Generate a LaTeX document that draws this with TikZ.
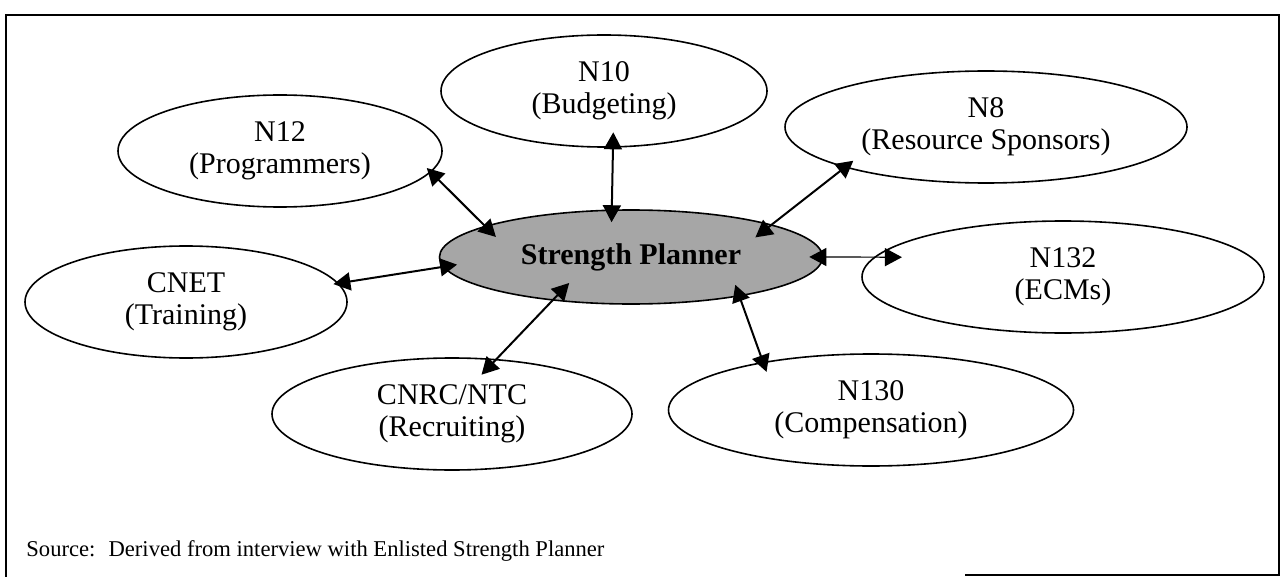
\documentclass[tikz,border=0pt]{standalone}
\usepackage{fontspec}
\setmainfont{Liberation Serif}
\usetikzlibrary{shapes.geometric}
\usetikzlibrary{arrows.meta}

\begin{document}
\begin{tikzpicture}[x=0.5pt, y=-0.5pt,
        office/.style={ellipse, draw, line width=0.8pt, inner sep=0pt, align=center,
            minimum height=56pt, font=\fontsize{15}{16}\selectfont},
        planner/.style={office, fill=gray!70, minimum height=47pt,
            font=\fontsize{15}{16}\selectfont\bfseries},
        link/.style={{Triangle[length=8.5pt,width=9pt]}-{Triangle[length=8.5pt,width=9pt]},
            line width=1pt}]
        \useasboundingbox (0,0) rectangle (1283,577);
        % frame of the figure
        \draw[line width=0.9pt] (6,577) -- (6,15) -- (1279,15) -- (1279,575) -- (965,575);

        \node[planner, minimum width=191.5pt] (sp) at (631,257) {Strength Planner};
        \node[office, minimum width=163pt] (n10) at (604,91) {N10\\(Budgeting)};
        \node[office, minimum width=162pt] (n12) at (280,151) {N12\\(Programmers)};
        \node[office, minimum width=201pt] (n8) at (986,127) {N8\\(Resource Sponsors)};
        \node[office, minimum width=161pt] (cnet) at (186,302) {CNET\\(Training)};
        \node[office, minimum width=201pt] (n132) at (1063,277) {N132\\(ECMs)};
        \node[office, minimum width=180pt] (cnrc) at (452,414) {CNRC/NTC\\(Recruiting)};
        \node[office, minimum width=202.5pt] (n130) at (871,410) {N130\\(Compensation)};

        % links to the strength planner
        \path[link] (n12.-8.9) edge[shorten <=-3pt, shorten >=-7.8pt] (sp.168.2);
        \path[link] (n10.-81.9) edge[shorten <=-7.7pt, shorten >=-6.4pt] (sp.112.1);
        \path[link] (n8.196.9) edge[shorten <=-5.5pt, shorten >=-10.5pt] (sp.13.9);
        \path[link] (cnet.7.9) edge[shorten <=-2.7pt, shorten >=-7.2pt] (sp.183);
        \path[link, line width=0.6pt] (n132.174.9) edge[shorten <=-14pt, shorten >=-7pt] (sp.-0.9);
        \path[link] (cnrc.51.3) edge[shorten <=-10.9pt, shorten >=-12.2pt] (sp.209.8);
        \path[link] (n130.156.2) edge[shorten <=-5.3pt, shorten >=-6.2pt] (sp.-20.8);

        \node[anchor=west, inner sep=0pt, font=\fontsize{11.3}{13}\selectfont] (src) at (26,551)
            {Source:~ Derived from interview with Enlisted Strength Planner};
    \end{tikzpicture}
\end{document}
